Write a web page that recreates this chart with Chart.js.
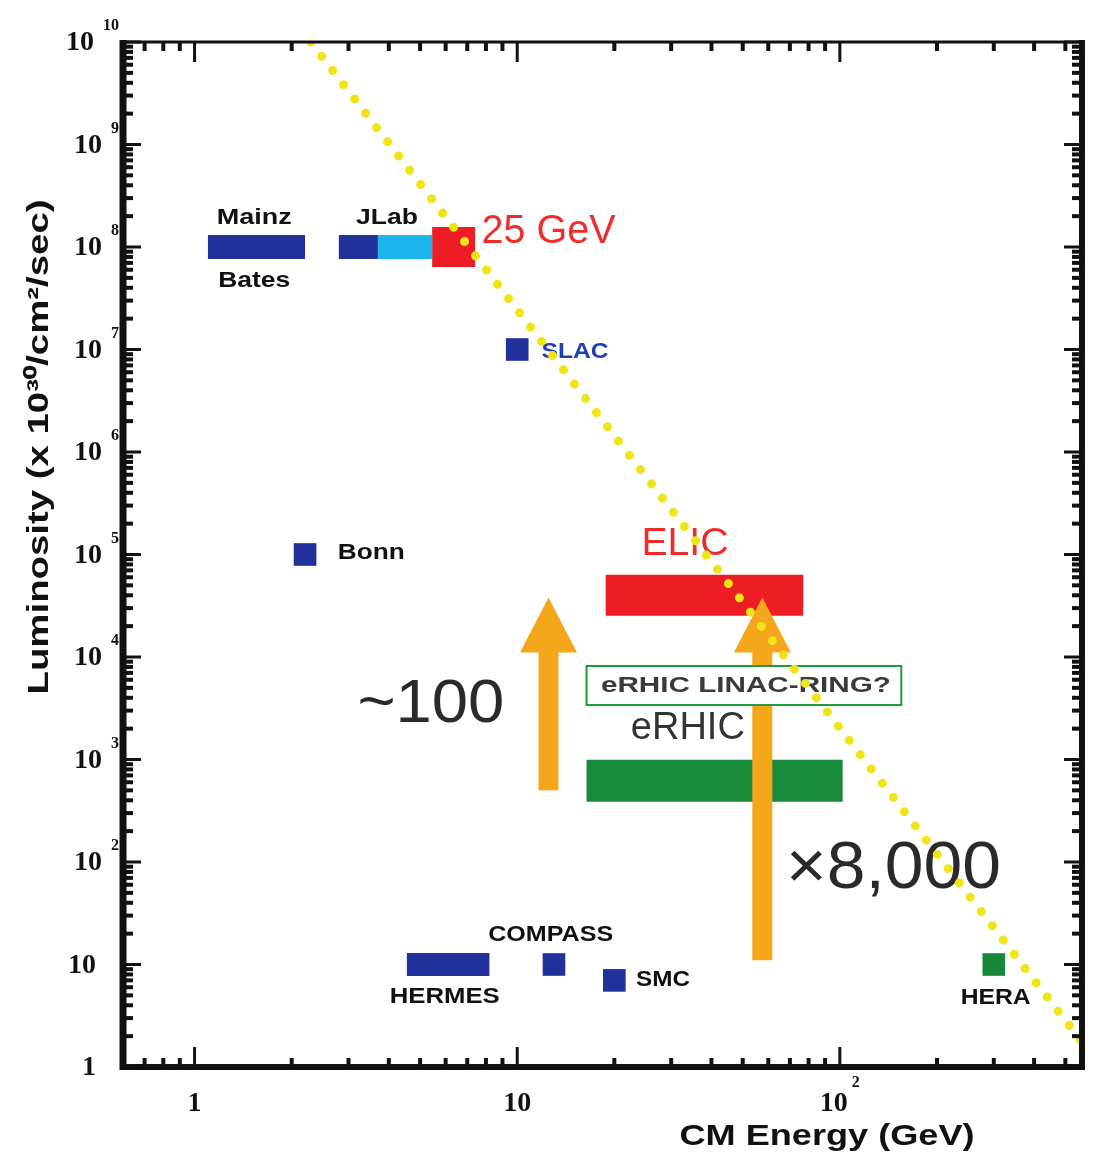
<!DOCTYPE html>
<html>
<head>
<meta charset="utf-8">
<script src="https://cdn.jsdelivr.net/npm/chart.js@4.4.1/dist/chart.umd.min.js"></script>
<style>
  html, body { margin: 0; background: #fff; }
  #wrap { width: 1098px; height: 1156px; position: relative; }
</style>
</head>
<body>
<div id="wrap"><canvas id="lumiChart"></canvas></div>
<script>
// axis ranges + tick labels ('^' marks the exponent)
const xRange = [0.609, 563];
const yRange = [1, 1e10];
const xTickValues = [1, 10, 100];
const xTickLabels = ['1', '10', '10^2'];
const yTickValues = [1, 10, 1e2, 1e3, 1e4, 1e5, 1e6, 1e7, 1e8, 1e9, 1e10];
const yTickLabels = ['1', '10', '10^2', '10^3', '10^4', '10^5', '10^6', '10^7', '10^8', '10^9', '10^10'];

// facilities covering an energy range (GeV) at one luminosity
const rangeNames = ['Mainz/Bates', 'JLab', 'JLab upgrade', '25 GeV', 'ELIC', 'eRHIC', 'HERMES'];
const rangeEmin = [1.1, 2.8, 3.7, 5.45, 18.8, 16.4, 4.55];
const rangeEmax = [2.2, 3.7, 5.45, 7.4, 77, 102, 8.2];
const rangeLumi = [1e8, 1e8, 1e8, 1e8, 4e4, 620, 10];

// single facilities
const pointNames = ['SLAC', 'Bonn', 'COMPASS', 'SMC', 'HERA'];
const pointEnergy = [10, 2.2, 13, 20, 300];
const pointLumi = [1e7, 1e5, 10, 7, 10];

// yellow dotted trend
const trendEnergy = [2.29, 600];
const trendLumi = [1e10, 1.35];

// orange gain arrows (~100 and x8,000)
const arrowEnergy = [12.5, 57.5];
const arrowFrom = [500, 11];
const arrowTo = [3.8e4, 3.8e4];

// looks
const BLUE = '#22309c';
const rangeColors = [BLUE, BLUE, '#1db4ea', '#ee1d25', '#ee1c24', '#17893a', BLUE];
const rangeHeights = [24, 24, 24, 40, 41, 42, 23];
const pointColors = [BLUE, BLUE, BLUE, BLUE, '#17873a'];

const SANS = '"Liberation Sans", Arial, sans-serif';
const SERIF = '"Liberation Serif", "DejaVu Serif", serif';

// text annotations, anchored in data coords, w = target width in px
const notes = [
  { text: 'Mainz', e: 1.53, l: 1.92e8, w: 75, font: 'bold 22px ' + SANS, color: '#111' },
  { text: 'Bates', e: 1.53, l: 4.66e7, w: 72, font: 'bold 22px ' + SANS, color: '#111' },
  { text: 'JLab', e: 3.95, l: 1.92e8, w: 62, font: 'bold 22px ' + SANS, color: '#111' },
  { text: '25 GeV', e: 12.5, l: 1.4e8, w: 134, font: '40px ' + SANS, color: '#ef2b2b' },
  { text: 'SLAC', e: 15.1, l: 9.46e6, w: 67, font: 'bold 22px ' + SANS, color: '#2140b0' },
  { text: 'Bonn', e: 3.53, l: 1.03e5, w: 67, font: 'bold 22px ' + SANS, color: '#111' },
  { text: 'ELIC', e: 33.1, l: 1.24e5, w: 87, font: '38px ' + SANS, color: '#ef2b2b' },
  { text: 'eRHIC', e: 33.8, l: 1.99e3, w: 114, font: '38px ' + SANS, color: '#333' },
  { text: '~100', e: 5.4, l: 3.4e3, w: 147, font: '62px ' + SANS, color: '#2a2a2a' },
  { text: '\u00d78,000', e: 146.6, l: 83.6, w: 215, font: '66px ' + SANS, color: '#2a2a2a' },
  { text: 'COMPASS', e: 12.7, l: 19.4, w: 125, font: 'bold 22px ' + SANS, color: '#111' },
  { text: 'HERMES', e: 5.96, l: 4.82, w: 110, font: 'bold 22px ' + SANS, color: '#111' },
  { text: 'SMC', e: 28.3, l: 7.06, w: 54, font: 'bold 22px ' + SANS, color: '#111' },
  { text: 'HERA', e: 304, l: 4.7, w: 70, font: 'bold 22px ' + SANS, color: '#111' }
];
// the boxed "eRHIC LINAC-RING?" label
const linacBox = { text: 'eRHIC LINAC-RING?', e0: 16.4, e1: 155, l0: 3.4e3, l1: 8.17e3 };

function fitText(ctx, text, cx, cy, width, font, color) {
  ctx.save();
  ctx.font = font;
  ctx.fillStyle = color;
  ctx.textAlign = 'center';
  ctx.textBaseline = 'middle';
  const w = ctx.measureText(text).width;
  ctx.translate(cx, cy);
  ctx.scale(width / w, 1);
  ctx.fillText(text, 0, 0);
  ctx.restore();
}

function drawArrow(ctx, x, yFrom, yTo) {
  const shaft = 20, head = 57, headLen = 55;
  ctx.fillStyle = '#f5a71c';
  ctx.fillRect(x - shaft / 2, yTo + headLen - 1, shaft, yFrom - yTo - headLen + 1);
  ctx.beginPath();
  ctx.moveTo(x, yTo);
  ctx.lineTo(x + head / 2, yTo + headLen);
  ctx.lineTo(x - head / 2, yTo + headLen);
  ctx.closePath();
  ctx.fill();
}

// arrows, box and labels sit under the yellow trend
const annotations = {
  id: 'annotations',
  beforeDatasetDraw(chart, args) {
    if (args.index !== 0) return;
    const { ctx, scales: { x, y } } = chart;
    ctx.save();
    arrowEnergy.forEach((e, i) => {
      drawArrow(ctx, x.getPixelForValue(e), y.getPixelForValue(arrowFrom[i]), y.getPixelForValue(arrowTo[i]));
    });
    const bx0 = x.getPixelForValue(linacBox.e0), bx1 = x.getPixelForValue(linacBox.e1);
    const by0 = y.getPixelForValue(linacBox.l1), by1 = y.getPixelForValue(linacBox.l0);
    ctx.fillStyle = '#fff';
    ctx.fillRect(bx0, by0, bx1 - bx0, by1 - by0);
    ctx.strokeStyle = '#1f9a3c';
    ctx.lineWidth = 2;
    ctx.strokeRect(bx0, by0, bx1 - bx0, by1 - by0);
    fitText(ctx, linacBox.text, (bx0 + bx1) / 2 + 2, (by0 + by1) / 2, 290, 'bold 22px ' + SANS, '#3a3a3a');
    notes.forEach(n => {
      fitText(ctx, n.text, x.getPixelForValue(n.e), y.getPixelForValue(n.l), n.w, n.font, n.color);
    });
    ctx.restore();
  }
};

// frame with inward ticks on all four sides, tick labels, axis titles
const frame = {
  id: 'frame',
  afterDraw(chart) {
    const { ctx, chartArea: a, scales: { x, y } } = chart;
    ctx.save();
    ctx.strokeStyle = '#111';
    ctx.fillStyle = '#111';
    ctx.lineCap = 'butt';

    const line = (x0, y0, x1, y1, w) => {
      ctx.lineWidth = w;
      ctx.beginPath(); ctx.moveTo(x0, y0); ctx.lineTo(x1, y1); ctx.stroke();
    };
    line(a.left, a.top - 2, a.left, a.bottom + 3, 7);
    line(a.left - 3, a.bottom, a.right + 3, a.bottom, 6);
    line(a.left - 3, a.top, a.right, a.top, 3);
    line(a.right, a.top - 2, a.right, a.bottom + 3, 6);

    for (let d = 0.1; d <= 1000; d *= 10) {
      for (let m = 1; m <= 9; m++) {
        const v = m * d, major = m === 1;
        const len = major ? 20 : 9, w = major ? 3 : 4;
        if (v >= xRange[0] && v <= xRange[1]) {
          const px = x.getPixelForValue(v);
          line(px, a.bottom, px, a.bottom - len, w);
          line(px, a.top, px, a.top + len, w);
        }
      }
    }
    for (let d = 1; d <= 1e10; d *= 10) {
      for (let m = 1; m <= 9; m++) {
        const v = m * d, major = m === 1;
        const len = major ? 18 : 10, w = major ? 3 : 4;
        if (v >= yRange[0] && v <= yRange[1]) {
          const py = y.getPixelForValue(v);
          line(a.left, py, a.left + len, py, w);
          line(a.right, py, a.right - len, py, w);
        }
      }
    }

    const baseFont = 'bold 28px ' + SERIF, expFont = 'bold 16px ' + SERIF;
    ctx.textBaseline = 'middle';
    yTickValues.forEach((v, i) => {
      const [base, exp] = yTickLabels[i].split('^');
      const py = y.getPixelForValue(v);
      let right = a.left - 27;
      if (exp) {
        ctx.font = expFont;
        const ew = ctx.measureText(exp).width;
        right = a.left - 4 - ew - 9;
        ctx.textAlign = 'left';
        ctx.fillText(exp, right + 9, py - 16);
      }
      ctx.font = baseFont;
      ctx.textAlign = 'right';
      ctx.fillText(base, right, py + 1);
    });
    xTickValues.forEach((v, i) => {
      const [base, exp] = xTickLabels[i].split('^');
      let cx = x.getPixelForValue(v);
      if (exp) {
        ctx.font = expFont;
        const ew = ctx.measureText(exp).width;
        cx -= (ew + 4) / 2;
        ctx.font = baseFont;
        const bw = ctx.measureText(base).width;
        ctx.font = expFont;
        ctx.textAlign = 'left';
        ctx.fillText(exp, cx + bw / 2 + 4, a.bottom + 16);
      }
      ctx.font = baseFont;
      ctx.textAlign = 'center';
      ctx.fillText(base, cx, a.bottom + 37);
    });

    // axis titles
    fitText(ctx, 'CM Energy (GeV)', 827, a.bottom + 70, 295, 'bold 30px ' + SANS, '#111');
    ctx.save();
    ctx.translate(40, 447);
    ctx.rotate(-Math.PI / 2);
    fitText(ctx, 'Luminosity (x 10\u00b3\u2070/cm\u00b2/sec)', 0, 0, 495, 'bold 29px ' + SANS, '#111');
    ctx.restore();
    ctx.restore();
  }
};

const datasets = [{
  label: 'trend',
  data: trendEnergy.map((e, i) => ({ x: e, y: trendLumi[i] })),
  showLine: true,
  borderColor: '#efe515',
  borderWidth: 9,
  borderDash: [0, 18],
  borderCapStyle: 'round',
  pointRadius: 0,
  order: 0
}];
rangeNames.forEach((name, i) => {
  datasets.push({
    label: name,
    data: [{ x: rangeEmin[i], y: rangeLumi[i] }, { x: rangeEmax[i], y: rangeLumi[i] }],
    showLine: true,
    borderColor: rangeColors[i],
    borderWidth: rangeHeights[i],
    borderCapStyle: 'butt',
    pointRadius: 0,
    order: 2
  });
});
datasets.push({
  label: 'facilities',
  data: pointNames.map((n, i) => ({ x: pointEnergy[i], y: pointLumi[i] })),
  pointStyle: 'rect',
  pointRadius: 16,
  backgroundColor: pointColors,
  borderWidth: 0,
  order: 1
});

new Chart(document.getElementById('lumiChart'), {
  type: 'scatter',
  data: { datasets },
  options: {
    responsive: true,
    maintainAspectRatio: false,
    animation: false,
    layout: { padding: { left: 123, right: 11, top: 42, bottom: 89 } },
    plugins: { legend: { display: false }, tooltip: { enabled: false } },
    scales: {
      x: { type: 'logarithmic', min: xRange[0], max: xRange[1], display: false },
      y: { type: 'logarithmic', min: yRange[0], max: yRange[1], display: false }
    }
  },
  plugins: [annotations, frame]
});
</script>
</body>
</html>
